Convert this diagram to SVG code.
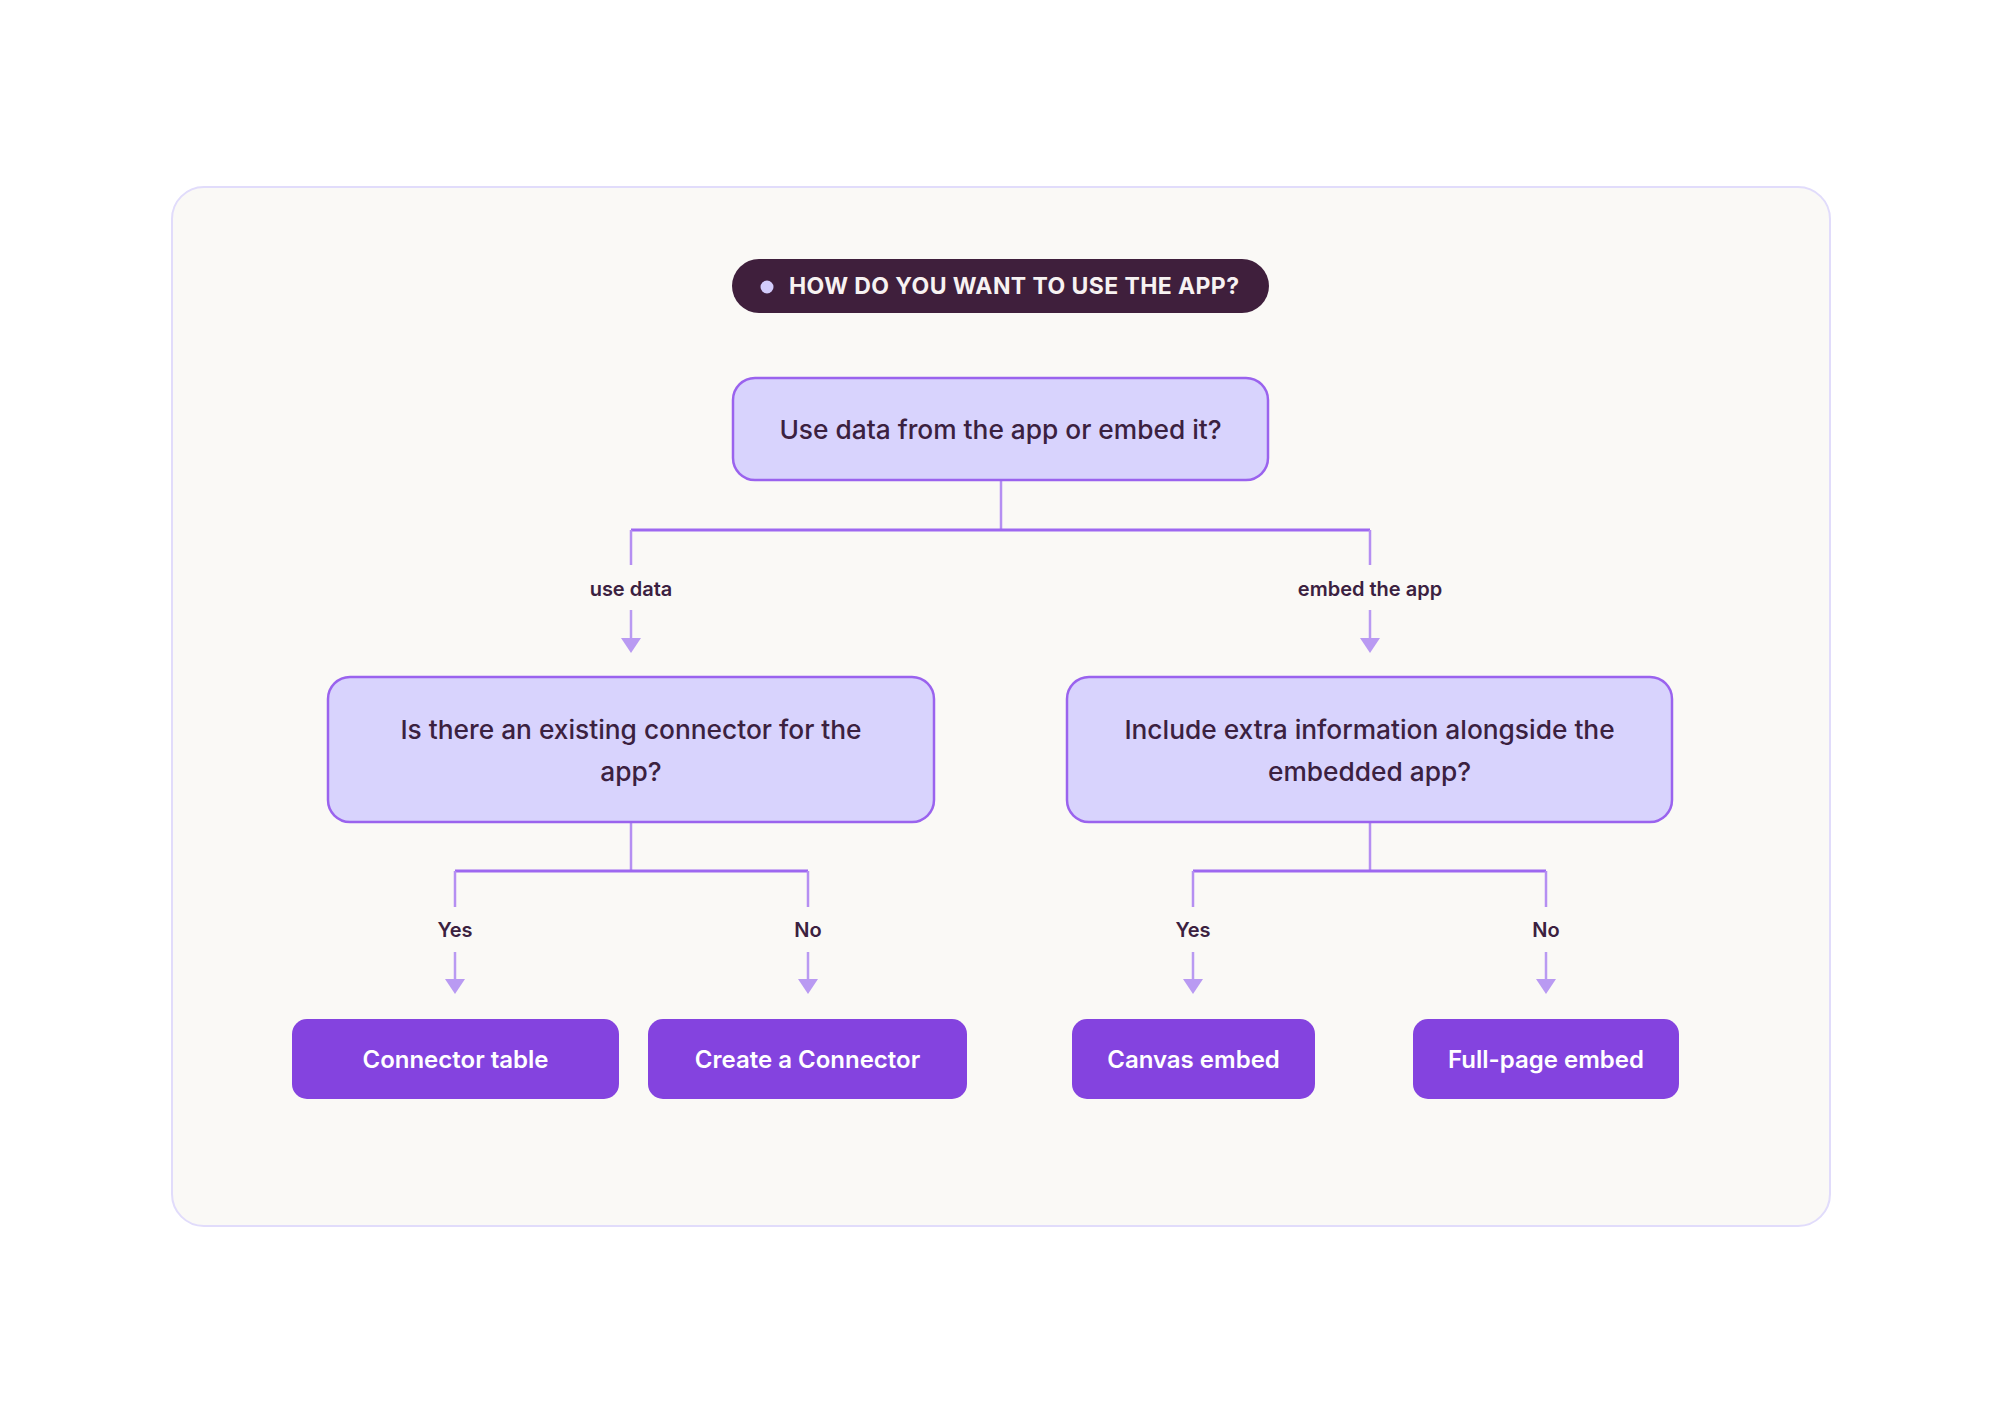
<svg xmlns="http://www.w3.org/2000/svg" width="2000" height="1413" viewBox="0 0 2000 1413">
  <defs>
    <marker id="arrow" markerUnits="userSpaceOnUse" markerWidth="16" markerHeight="20" viewBox="0 0 16 20" refX="0" refY="10" orient="auto">
      <path d="M0,0 L15,10 L0,20 Z" fill="#b99af2"/>
    </marker>
    <style>
      .frame { fill: #faf9f6; stroke: #e1dcfb; stroke-width: 2; }
      .q { fill: #d8d3fd; stroke: #9a63ee; stroke-width: 2.5; }
      .qt { font-family: Inter, "Noto Sans", sans-serif; font-size: 26.3px; font-weight: 500; fill: #3b2140; text-anchor: middle; }
      .btn { fill: #8443df; }
      .bt { font-family: Inter, "Noto Sans", sans-serif; font-size: 24px; font-weight: 600; fill: #ffffff; text-anchor: middle; }
      .lbl { font-family: Inter, "Noto Sans", sans-serif; font-size: 20px; font-weight: 600; fill: #3b2140; text-anchor: middle; }
      .h { fill: none; stroke: #9d68f0; stroke-width: 3; }
      .v { fill: none; stroke: #b58ff2; stroke-width: 2.5; }
      .a { fill: none; stroke: #b99af2; stroke-width: 2.5; marker-end: url(#arrow); }
    </style>
  </defs>
  <rect width="2000" height="1413" fill="#ffffff"/>
  <rect class="frame" x="172" y="187" width="1658" height="1039" rx="32"/>

  <g id="title">
    <rect x="732" y="259" width="537" height="54" rx="27" fill="#3f1f3c"/>
    <circle cx="767" cy="287" r="6.5" fill="#d3cbfb"/>
    <text x="789" y="294" font-family="Inter, 'Noto Sans', sans-serif" font-size="23" font-weight="700" fill="#f7f2f2" textLength="450" lengthAdjust="spacing">HOW DO YOU WANT TO USE THE APP?</text>
  </g>

  <g id="connectors">
    <path class="v" d="M1001,480 V530"/>
    <path class="h" d="M631,530 H1370"/>
    <path class="v" d="M631,530 V565"/>
    <path class="v" d="M1370,530 V565"/>
    <path class="a" d="M631,610 V638"/>
    <path class="a" d="M1370,610 V638"/>
    <text class="lbl" x="631" y="596">use data</text>
    <text class="lbl" x="1370" y="596">embed the app</text>

    <path class="v" d="M631,822 V871"/>
    <path class="h" d="M455,871 H808"/>
    <path class="v" d="M455,871 V907"/>
    <path class="v" d="M808,871 V907"/>
    <path class="a" d="M455,952 V979"/>
    <path class="a" d="M808,952 V979"/>
    <text class="lbl" x="455" y="937">Yes</text>
    <text class="lbl" x="808" y="937">No</text>

    <path class="v" d="M1370,822 V871"/>
    <path class="h" d="M1193,871 H1546"/>
    <path class="v" d="M1193,871 V907"/>
    <path class="v" d="M1546,871 V907"/>
    <path class="a" d="M1193,952 V979"/>
    <path class="a" d="M1546,952 V979"/>
    <text class="lbl" x="1193" y="937">Yes</text>
    <text class="lbl" x="1546" y="937">No</text>
  </g>

  <g id="q-root">
    <rect class="q" x="733" y="378" width="535" height="102" rx="22"/>
    <text class="qt" x="1000.5" y="439">Use data from the app or embed it?</text>
  </g>

  <g id="q-connector">
    <rect class="q" x="328" y="677" width="606" height="145" rx="22"/>
    <text class="qt" x="631" y="739">Is there an existing connector for the</text>
    <text class="qt" x="631" y="781">app?</text>
  </g>

  <g id="q-embed">
    <rect class="q" x="1067" y="677" width="605" height="145" rx="22"/>
    <text class="qt" x="1369.5" y="739">Include extra information alongside the</text>
    <text class="qt" x="1369.5" y="781">embedded app?</text>
  </g>

  <g id="connector-table">
    <rect class="btn" x="292" y="1019" width="327" height="80" rx="15"/>
    <text class="bt" x="455.5" y="1068">Connector table</text>
  </g>

  <g id="create-connector">
    <rect class="btn" x="648" y="1019" width="319" height="80" rx="15"/>
    <text class="bt" x="807.5" y="1068">Create a Connector</text>
  </g>

  <g id="canvas-embed">
    <rect class="btn" x="1072" y="1019" width="243" height="80" rx="15"/>
    <text class="bt" x="1193.5" y="1068">Canvas embed</text>
  </g>

  <g id="full-page-embed">
    <rect class="btn" x="1413" y="1019" width="266" height="80" rx="15"/>
    <text class="bt" x="1546" y="1068">Full-page embed</text>
  </g>
</svg>
